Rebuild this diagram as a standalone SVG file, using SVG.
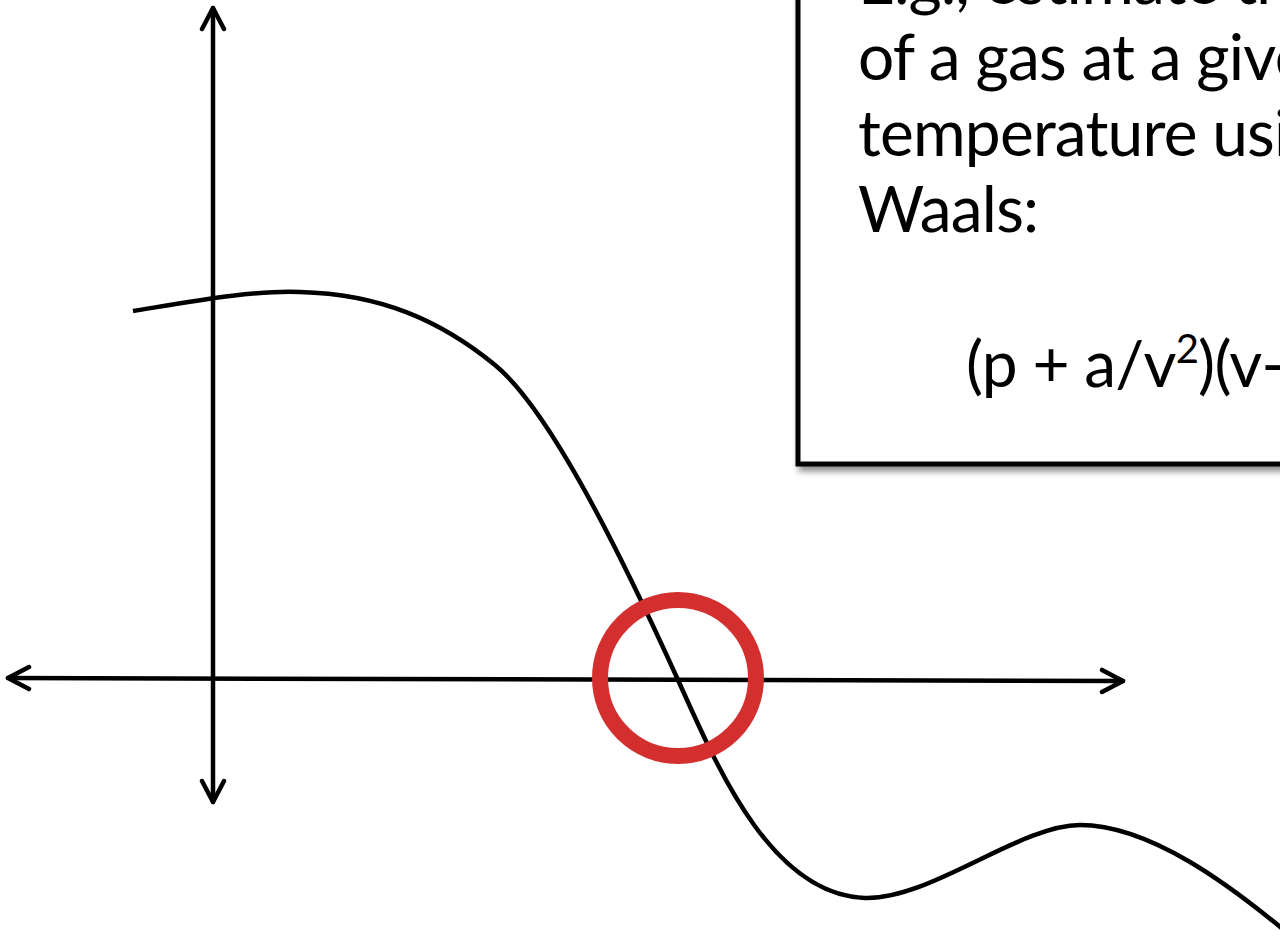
<svg xmlns="http://www.w3.org/2000/svg" width="1280" height="937" viewBox="0 0 1280 937">
<style>
.ax{fill:none;stroke:#000;stroke-width:4.5;stroke-linecap:round;}
.curve{fill:none;stroke:#000;stroke-width:4.5;}
.txt{font-family:Lato,"Open Sans","Noto Sans",sans-serif;font-size:64px;letter-spacing:-0.8px;fill:#000;}
</style>
<defs>
<marker id="ah" markerUnits="userSpaceOnUse" viewBox="-24 -14 28 28" refX="0" refY="0" markerWidth="28" markerHeight="28" orient="auto-start-reverse">
<path d="M-21,-11 L0,0 L-21,11" fill="none" stroke="#000" stroke-width="4.5" stroke-linecap="round" stroke-linejoin="round"/>
</marker>
<filter id="sh" x="-10%" y="-10%" width="130%" height="130%">
<feDropShadow dx="3" dy="5" stdDeviation="3" flood-color="#000" flood-opacity="0.45"/>
</filter>
</defs>
<rect width="1280" height="937" fill="#fff"/>
<g id="textbox">
<rect x="798" y="-60" width="620" height="524" fill="#fff" stroke="#000" stroke-width="5" filter="url(#sh)"/>
<text class="txt" x="858" y="4">E.g., estimate the molar volume</text>
<text class="txt" x="858" y="80">of a gas at a given pressure and</text>
<text class="txt" x="858" y="156">temperature using van der</text>
<text class="txt" x="858" y="232">Waals:</text>
<text class="txt" x="966" y="387">(p + a/v<tspan font-size="40" dy="-24">2</tspan><tspan dy="24">)(v-b) = RT</tspan></text>
</g>
<g id="connectors">
<path class="ax" d="M213,802 L213,8" marker-start="url(#ah)" marker-end="url(#ah)"/>
<path class="ax" d="M8,678 L1123,681" marker-start="url(#ah)" marker-end="url(#ah)"/>
</g>
<g id="curve">
<path class="curve" d="M133,311 C195,301 255,290 300,292 C380,294 440,320 495,365 C545,406 610,530 678,680 C716,764 770,895 865,898 C930,900 1020,825 1080,825 C1150,825 1230,885 1290,935"/>
</g>
<g id="root-marker">
<circle cx="678" cy="678" r="78" fill="none" stroke="#d32f2f" stroke-width="16"/>
</g>
</svg>
